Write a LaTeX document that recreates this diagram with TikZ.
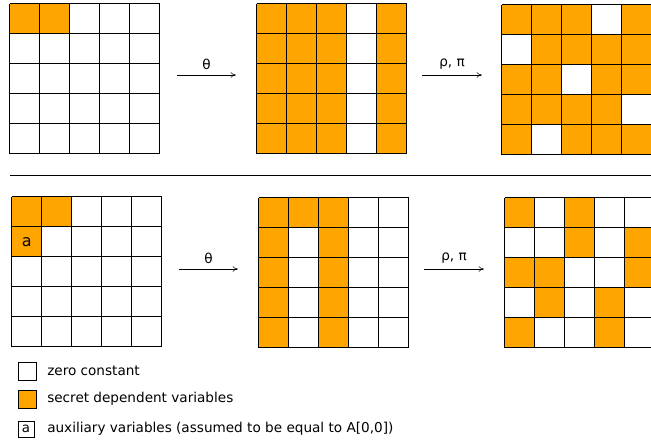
\documentclass[tikz,border=0pt]{standalone}
\usepackage{fontspec}
\setmainfont{DejaVu Sans}
\usepackage{tikz}
\usetikzlibrary{arrows.meta,positioning,calc}
\usepackage{xcolor}
\definecolor{secret}{HTML}{FFA500}

\begin{document}
\begin{tikzpicture}[x=0.75pt,y=-0.75pt,
    state/.style={minimum size=112.5pt,inner sep=0pt,draw=none},
    lbl/.style={font=\fontsize{10.2}{12}\selectfont,inner sep=0pt},
    legendbox/.style={draw,thin,inner sep=0pt,minimum size=13.5pt},
    step arrow/.style={-{To[length=4pt,width=4pt]},thin}]
    \useasboundingbox (0,0) rectangle (651,441);
    \clip (0,0) rectangle (651,441);
    % the six state matrices
    \node[state] (t1) at (85,79) {};
    \node[state] (t2) at (332,79) {};
    \node[state] (t3) at (577,80) {};
    \node[state] (b1) at (87,272) {};
    \node[state] (b2) at (334,273) {};
    \node[state] (b3) at (580,273) {};
    % secret dependent lanes
    \foreach \m/\c/\r in {t1/0/0,t1/1/0,b1/0/0,b1/1/0,b1/0/1,
        b2/1/0,b3/0/0,b3/2/0,b3/2/1,b3/4/1,b3/0/2,b3/1/2,b3/4/2,b3/1/3,b3/3/3,b3/0/4,b3/3/4}
        \fill[secret] ($(\m.north west)+(\c*30,\r*30)$) rectangle +(30,30);
    \foreach \m/\c in {t2/0,t2/1,t2/2,t2/4,b2/0,b2/2}
        \fill[secret] (\m.north west) ++(\c*30,0) rectangle +(30,150);
    \fill[secret] (t3.north west) rectangle (t3.south east);
    \foreach \c/\r in {3/0,0/1,2/2,4/3,1/4}
        \fill[white] ($(t3.north west)+(\c*30,\r*30)$) rectangle +(30,30);
    % grid lines
    \foreach \m in {t1,t2,t3,b1,b2,b3}{
        \foreach \i in {0,...,5}{
            \draw[thin] (\m.north west) ++(\i*30,0) -- ++(0,150);
            \draw[thin] (\m.north west) ++(0,\i*30) -- ++(150,0);
        }
    }
    \node[font=\fontsize{12}{14}\selectfont,inner sep=0pt] (aux) at ($(b1.north west)+(15,45)$) {a};
    % round steps
    \coordinate (ta) at (177,75); \coordinate (tb) at (236,75);
    \coordinate (tc) at (422,75); \coordinate (td) at (482,75);
    \coordinate (ba) at (179,269); \coordinate (bb) at (238,269);
    \coordinate (bc) at (424,269); \coordinate (bd) at (484,269);
    \draw[step arrow] (ta) -- node[lbl,above=4pt] (theta1) {θ} (tb);
    \draw[step arrow] (tc) -- node[lbl,above=4pt] (rhopi1) {ρ, π} (td);
    \draw[step arrow] (ba) -- node[lbl,above=4pt] (theta2) {θ} (bb);
    \draw[step arrow] (bc) -- node[lbl,above=4pt] (rhopi2) {ρ, π} (bd);
    % separator
    \coordinate (sl) at (10,175); \coordinate (sr) at (651,175);
    \draw[thin] (sl) -- (sr);
    % legend
    \node[legendbox] (zero) at (27,371) {};
    \node[legendbox,fill=secret] (sec) at (27,399) {};
    \node[legendbox,minimum size=12pt,font=\fontsize{10}{12}\selectfont] (auxbox) at (26,429) {a};
    \node[lbl,anchor=west] (zerotxt) at (47,371) {zero constant};
    \node[lbl,anchor=west] (sectxt) at (47,399) {secret dependent variables};
    \node[lbl,anchor=west] (auxtxt) at (47,429) {auxiliary variables (assumed to be equal to A[0,0])};
\end{tikzpicture}
\end{document}
